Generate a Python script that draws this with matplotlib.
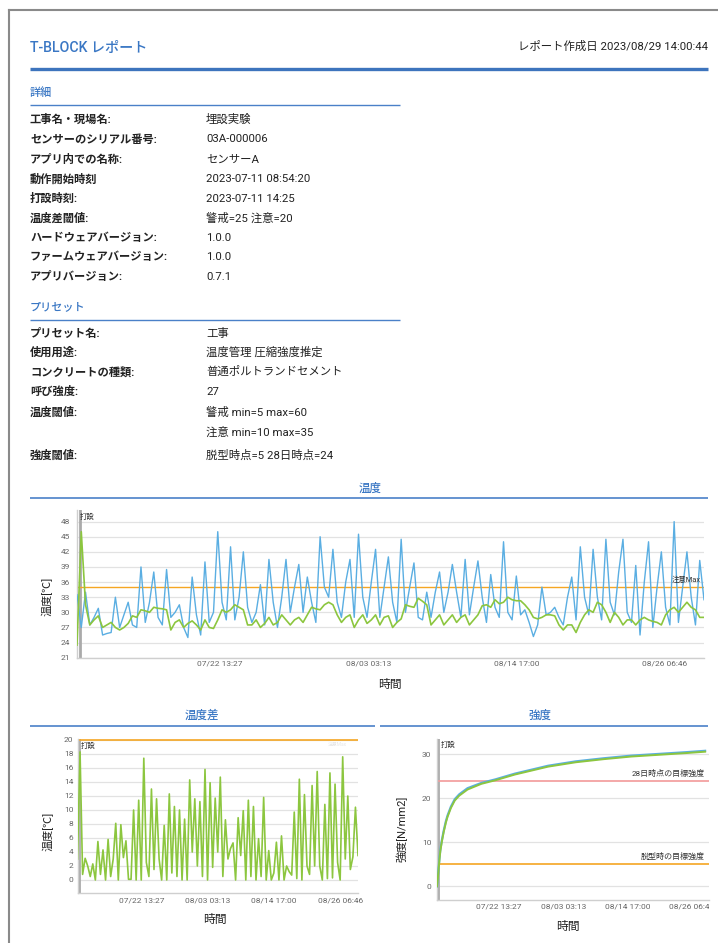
import numpy as np
import pandas as pd
import matplotlib
matplotlib.use("Agg")
import matplotlib.pyplot as plt
import matplotlib.dates as mdates
from matplotlib.lines import Line2D
from matplotlib.transforms import Bbox, TransformedBbox

plt.rcParams['font.family'] = ['Roboto', 'Noto Sans CJK JP', 'DejaVu Sans']
plt.rcParams['axes.unicode_minus'] = False

# ---------------- data ----------------
report_title = "T-BLOCK レポート"
report_date = "レポート作成日 2023/08/29 14:00:44"

detail_title = "詳細"
detail_labels = ["工事名・現場名:", "センサーのシリアル番号:", "アプリ内での名称:", "動作開始時刻",
                 "打設時刻:", "温度差閾値:", "ハードウェアバージョン:", "ファームウェアバージョン:",
                 "アプリバージョン:"]
detail_values = ["埋設実験", "03A-000006", "センサーA", "2023-07-11 08:54:20",
                 "2023-07-11 14:25", "警戒=25 注意=20", "1.0.0", "1.0.0", "0.7.1"]

preset_title = "プリセット"
preset_labels = ["プリセット名:", "使用用途:", "コンクリートの種類:", "呼び強度:", "温度閾値:", "", "強度閾値:"]
preset_values = ["工事", "温度管理 圧縮強度推定", "普通ポルトランドセメント", "27",
                 "警戒 min=5 max=60", "注意 min=10 max=35", "脱型時点=5 28日時点=24"]

start_time = "2023-07-11 08:54:20"
pour_time = "2023-07-11 14:25"
sample_step = "8h"
xtick_times = ["2023-07-22 13:27", "2023-08-03 03:13", "2023-08-14 17:00", "2023-08-26 06:46"]
xtick_labels = ["07/22 13:27", "08/03 03:13", "08/14 17:00", "08/26 06:46"]

temp_blue = [33.5, 27, 34, 27.5, 29, 30.8, 25.5, 25.8, 26, 33,
             27, 29.5, 32, 27.5, 27, 39, 28, 32, 38, 29,
             27.5, 38.5, 29, 30, 31.5, 27, 25, 37, 29.5, 25.5,
             40, 28, 30, 46, 32, 28.5, 43, 28.5, 33, 42,
             31, 28, 30, 35.5, 27.5, 40.5, 32, 27, 33, 40.5,
             30, 35, 39.5, 30, 37, 32, 28, 45, 35, 33,
             42.5, 32, 29, 36, 40.5, 29, 45.5, 33, 29, 36,
             42.5, 29, 35, 41, 32, 28, 44.5, 30, 35, 39.8,
             29, 28.5, 34, 29, 34, 38, 30, 34, 39.5, 34,
             29, 40.5, 29.5, 35, 40.2, 33, 28, 37.5, 31, 29,
             44, 30, 28.5, 37.2, 29.5, 30.5, 28, 25.2, 27.5, 35,
             29.5, 30, 31, 29, 27.5, 33, 37, 28.5, 43, 33,
             29.5, 42.5, 33, 28.5, 44.5, 32, 29.5, 38, 44.5, 30,
             28, 39.3, 25.5, 36, 44, 27, 35, 42, 31, 27.5,
             48, 28, 35, 42, 33, 27.5, 40.3, 32.5]
temp_green = [23.5, 46, 31.5, 27.5, 28.5, 29.3, 27, 27.5, 28, 27,
              26.5, 27, 27.8, 29.3, 29, 30.5, 30.3, 30, 31, 30.8,
              30.7, 30.5, 26.5, 28, 28.5, 27, 27.8, 28.3, 27.5, 26.5,
              28.5, 27, 26.8, 28.5, 30.5, 30, 30.5, 31.5, 31, 30.5,
              27.5, 27.5, 28.5, 27, 27.8, 29, 27.5, 28, 29.5, 28.5,
              27.5, 28.5, 29, 28, 29.5, 31, 30.7, 30.5, 31.5, 32,
              31.5, 29.5, 28, 29, 29.5, 27, 28.5, 29.5, 27.8, 28.5,
              29.5, 27.5, 29, 29.3, 27, 28, 28.7, 31.5, 31.2, 31,
              32.8, 32.2, 31.5, 27.5, 28.5, 29.5, 27.5, 28.5, 29.5, 28,
              29, 29.5, 27.5, 28.5, 29.5, 31.3, 31.5, 31, 32.5, 31.7,
              32, 33, 32.5, 32.3, 32.3, 31.5, 30.5, 29, 28.7, 29,
              29.5, 29.5, 29.3, 27.5, 26.5, 27.5, 27.5, 26, 28, 29.5,
              30.5, 30, 32, 31.5, 30, 28, 30, 29, 27.5, 28.5,
              28.5, 27.5, 28.5, 29, 28.5, 28.2, 28, 27.5, 29.5, 30.5,
              31, 30, 31, 32, 31, 30.5, 29, 29]
temp_caution_max = 35
temp_yticks = [21, 24, 27, 30, 33, 36, 39, 42, 45, 48]

diff_values = [3, 18.3, 0.8, 3.1, 2, 0.5, 2.3, 0, 5.5, 0.8,
               4.3, 0, 5.8, 0.5, 3, 8.1, 0, 7.9, 3.2, 5.6,
               0.1, 0.1, 10, 0, 11.4, 0, 17.4, 2.5, 0.5, 13,
               1.5, 11.6, 3, 0, 7.8, 0, 12.3, 1, 10.5, 0.5,
               10, 0, 8.7, 0, 14.3, 4, 11.6, 2, 11.2, 0.5,
               15.8, 0, 13.9, 1.8, 11.7, 4, 14.7, 0.5, 8.6, 3,
               4.5, 5.3, 0, 8.9, 3.5, 9.9, 0, 11.4, 0.5, 10.5,
               0, 5.9, 0.5, 11.8, 0, 4.2, 0, 1, 5.4, 0,
               6.3, 0, 2, 1.2, 0.7, 9.7, 0.2, 14.4, 0, 12.2,
               2, 0.8, 13.5, 2, 15.5, 2, 0, 10.8, 0.2, 15.3,
               0.3, 13.7, 2.5, 0, 17.6, 3, 12, 1.5, 3.3, 10.4, 3.5]
diff_caution = 20
diff_yticks = [0, 2, 4, 6, 8, 10, 12, 14, 16, 18, 20]

strength_days = [0, 0.15, 0.3, 0.45, 0.6, 0.85, 1.2, 1.6, 1.9, 2.5, 3.2, 4.0, 5.5,
                 8, 10.5, 14, 20, 25, 30, 35, 40, 45, 48.3]
strength_blue = [0, 2.0, 4.3, 6.5, 8.3, 10.3, 12.6, 14.8, 16.1, 18.1, 19.8, 20.9, 22.3,
                 23.5, 24.3, 25.6, 27.4, 28.4, 29.1, 29.7, 30.1, 30.5, 30.8]
strength_green = [0, 1.8, 4.0, 6.2, 8.0, 10.0, 12.3, 14.5, 15.8, 17.8, 19.5, 20.6, 22.0,
                   23.3, 24.1, 25.4, 27.2, 28.2, 28.9, 29.5, 29.9, 30.3, 30.6]
strength_demold = 5
strength_28d = 24
strength_yticks = [0, 10, 20, 30]

# ---------------- styling ----------------
W, H = 718, 943
BLUE_T = '#3a77c4'
LINE_B = '#4a80c8'
C_BLUE = '#5aaee2'
C_GREEN = '#8cc63f'
C_ORANGE = '#f5a623'
C_RED = '#f29a9a'
GRID = '#e2e2e2'
TICK = '#666666'
TXT = '#222222'


def fx(x):
    return x / W


def fy(y):
    return 1 - y / H


fig = plt.figure(figsize=(W / 100, H / 100), dpi=100)
fig.patch.set_facecolor('white')


def hline(x0, x1, y, color, lw):
    fig.add_artist(Line2D([fx(x0), fx(x1)], [fy(y), fy(y)], color=color, lw=lw,
                          transform=fig.transFigure, solid_capstyle='butt'))


def text(x, y, s, **kw):
    kw.setdefault('va', 'center')
    kw.setdefault('color', TXT)
    return fig.text(fx(x), fy(y), s, **kw)


# page border
fig.add_artist(Line2D([fx(9), fx(9)], [fy(10), fy(943)], color='#8a8a8a', lw=1.5,
                      transform=fig.transFigure))
fig.add_artist(Line2D([fx(9), fx(718)], [fy(10), fy(10)], color='#8a8a8a', lw=1.5,
                      transform=fig.transFigure))

# header
text(30, 48, report_title, fontsize=10.2, color=BLUE_T, fontweight='medium')
text(708, 46, report_date, fontsize=8.2, ha='right')
hline(30, 708, 69, '#3d74bd', 2.4)

# detail section
text(30, 93, detail_title, fontsize=8, color=BLUE_T, fontweight='medium')
hline(30, 400, 105, LINE_B, 1.0)
detail_y = [119.3, 139.3, 159.3, 179.3, 198.7, 218.0, 237.7, 256.7, 276.7]
for yy, lab, val in zip(detail_y, detail_labels, detail_values):
    text(30, yy, lab, fontsize=8.1, fontweight='bold')
    text(206, yy, val, fontsize=8.2)

# preset section
text(30, 307, preset_title, fontsize=8, color=BLUE_T, fontweight='medium')
hline(30, 400, 320, LINE_B, 1.0)
preset_y = [333.3, 351.7, 371.7, 391.7, 412.3, 432.3, 455.7]
for yy, lab, val in zip(preset_y, preset_labels, preset_values):
    if lab:
        text(30, yy, lab, fontsize=8.1, fontweight='bold')
    text(206, yy, val, fontsize=8.2)

# chart headers
text(370, 488, "温度", fontsize=8.3, color=BLUE_T, ha='center', fontweight='medium')
hline(30, 708, 498, LINE_B, 1.2)
text(202, 715, "温度差", fontsize=8.3, color=BLUE_T, ha='center', fontweight='medium')
hline(30, 375, 726, LINE_B, 1.2)
text(540, 715, "強度", fontsize=8.3, color=BLUE_T, ha='center', fontweight='medium')
hline(380, 708, 726, LINE_B, 1.2)

# times
t0 = pd.Timestamp(start_time)
t_pour = pd.Timestamp(pour_time)
temp_times = pd.date_range(t0, periods=len(temp_blue), freq=sample_step)
t_end = temp_times[-1]
diff_times = pd.date_range(t0, t_end, periods=len(diff_values))
strength_times = t0 + pd.to_timedelta(strength_days, unit='D')
tick_pos = [pd.Timestamp(t) for t in xtick_times]


def make_axes(left, right, top, bottom):
    ax = fig.add_axes([fx(left), fy(bottom), (right - left) / W, (bottom - top) / H])
    ax.set_facecolor('white')
    for s in ['top', 'right']:
        ax.spines[s].set_visible(False)
    ax.spines['bottom'].set_color('#cfcfcf')
    ax.spines['left'].set_color('#cfcfcf')
    ax.spines['bottom'].set_linewidth(1.0)
    ax.spines['left'].set_linewidth(1.0)
    ax.grid(axis='y', color=GRID, lw=0.9)
    ax.set_axisbelow(True)
    ax.tick_params(length=0, labelsize=6, labelcolor=TICK)
    ax.set_xlim(t0, t_end)
    ax.set_xticks(tick_pos)
    ax.set_xticklabels(xtick_labels)
    ax.axvline(t_pour, color='#aaaaaa', lw=2.0, zorder=1)
    return ax


# ---- temperature chart ----
ax1 = make_axes(77, 704, 510, 657.7)
ax1.set_ylim(21, 50.3)
ax1.set_yticks(temp_yticks)
ax1.tick_params(axis='y', pad=5)
ax1.tick_params(axis='x', pad=2)
ax1.axhline(temp_caution_max, color=C_ORANGE, lw=1.0, zorder=2)
ax1.plot(temp_times, temp_blue, color=C_BLUE, lw=1.0, zorder=3)
ax1.plot(temp_times, temp_green, color=C_GREEN, lw=1.2, zorder=4)
ax1.text(0.995, temp_caution_max + 0.6, "注意Max", transform=ax1.get_yaxis_transform(),
         ha='right', va='bottom', fontsize=5.3, color='#333333', zorder=5)
text(80, 517, "打設", fontsize=5.3, color='#333333')
text(47, 596, "温度[℃]", fontsize=8, rotation=90, ha='center')
text(390, 684, "時間", fontsize=8.5, ha='center')

# ---- temperature difference chart ----
ax2 = make_axes(77.5, 358, 738.6, 892.6)
ax2.set_ylim(-1.8, 20.2)
ax2.set_yticks(diff_yticks)
ax2.tick_params(axis='y', pad=3)
ax2.tick_params(axis='x', pad=3.2)
ax2.axhline(diff_caution, color=C_ORANGE, lw=1.2, zorder=2)
ax2.plot(diff_times, diff_values, color=C_GREEN, lw=1.2, zorder=4)
ax2.text(0.96, diff_caution - 0.3, "注意Max", transform=ax2.get_yaxis_transform(),
         ha='right', va='top', fontsize=3.5, color='#e6e6e6', zorder=1)
text(81, 746, "打設", fontsize=5.3, color='#333333')
text(48, 831, "温度[℃]", fontsize=8, rotation=90, ha='center')
text(215, 919, "時間", fontsize=8.5, ha='center')

# ---- strength chart ----
ax3 = make_axes(437, 709, 738.5, 899.5)
ax3.set_ylim(-3, 33.6)
ax3.set_yticks(strength_yticks)
ax3.tick_params(axis='y', pad=4)
ax3.tick_params(axis='x', pad=2.6)
ax3.axhline(strength_28d, color=C_RED, lw=1.2, zorder=2)
ax3.axhline(strength_demold, color=C_ORANGE, lw=1.2, zorder=2)
ax3.plot(strength_times, strength_blue, color=C_BLUE, lw=1.6, zorder=3)
ax3.plot(strength_times, strength_green, color=C_GREEN, lw=1.4, zorder=4)
ax3.text(0.985, strength_28d + 0.9, "28日時点の目標強度", transform=ax3.get_yaxis_transform(),
         ha='right', va='bottom', fontsize=5.8, color='#333333')
ax3.text(0.985, strength_demold + 0.9, "脱型時の目標強度", transform=ax3.get_yaxis_transform(),
         ha='right', va='bottom', fontsize=5.8, color='#333333')
text(441, 745, "打設", fontsize=5.3, color='#333333')
text(402, 829, "強度[N/mm2]", fontsize=8, rotation=90, ha='center')
text(568, 926, "時間", fontsize=8.5, ha='center')

clip = TransformedBbox(Bbox.from_extents(0, 0, fx(709), 1), fig.transFigure)
for lab in ax3.get_xticklabels():
    lab.set_clip_on(True)
    lab.set_clip_box(clip)

fig.savefig("out.png", dpi=100)
